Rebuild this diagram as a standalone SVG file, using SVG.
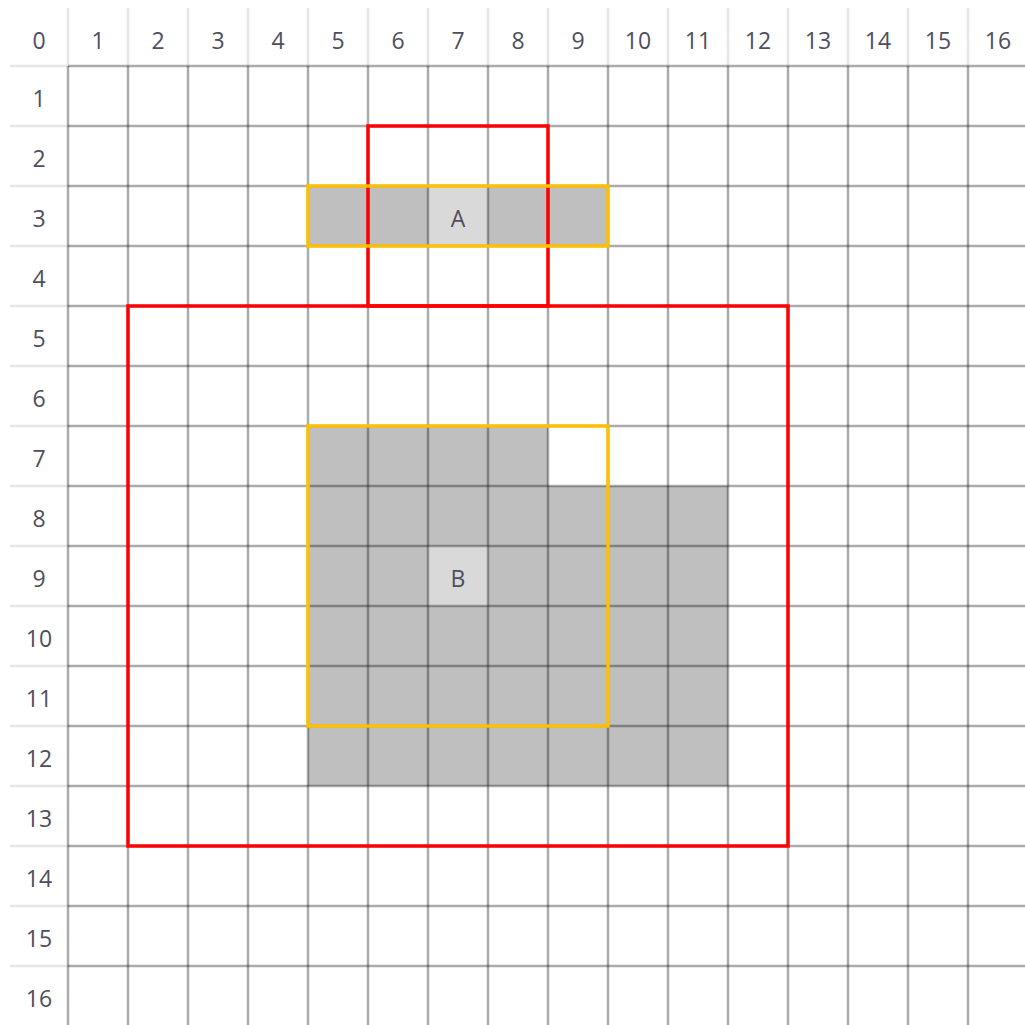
<svg xmlns="http://www.w3.org/2000/svg" width="1025" height="1025" viewBox="0 0 1025 1025">
<style>
.lbl{font-family:"Open Sans","Liberation Sans",sans-serif;font-size:23px;fill:#4e4e5e;text-anchor:middle;dominant-baseline:central}
.hl{stroke:#e6e6e6;stroke-width:2.5}
.gl{stroke:#000;stroke-opacity:0.33;stroke-width:2.5}
.cell{fill:#bfbfbf}
.cellc{fill:#d9d9d9}
.red{fill:none;stroke:#ff0000;stroke-width:3.5}
.org{fill:none;stroke:#ffc000;stroke-width:3.5}
</style>
<rect width="1025" height="1025" fill="#ffffff"/>
<g id="fills">
<rect class="cell" x="308" y="186" width="300" height="60"/>
<rect class="cellc" x="428" y="186" width="60" height="60"/>
<rect class="cell" x="308" y="426" width="240" height="60"/>
<rect class="cell" x="308" y="486" width="420" height="300"/>
<rect class="cellc" x="428" y="546" width="60" height="60"/>
</g>
<g id="header-lines">
<path class="hl" d="M68 8V66M128 8V66M188 8V66M248 8V66M308 8V66M368 8V66M428 8V66M488 8V66M548 8V66M608 8V66M668 8V66M728 8V66M788 8V66M848 8V66M908 8V66M968 8V66"/>
<path class="hl" d="M10 66H68M10 126H68M10 186H68M10 246H68M10 306H68M10 366H68M10 426H68M10 486H68M10 546H68M10 606H68M10 666H68M10 726H68M10 786H68M10 846H68M10 906H68M10 966H68"/>
</g>
<g id="grid">
<path class="gl" d="M68 66V1025M128 66V1025M188 66V1025M248 66V1025M308 66V1025M368 66V1025M428 66V1025M488 66V1025M548 66V1025M608 66V1025M668 66V1025M728 66V1025M788 66V1025M848 66V1025M908 66V1025M968 66V1025"/>
<path class="gl" d="M68 66H1025M68 126H1025M68 186H1025M68 246H1025M68 306H1025M68 366H1025M68 426H1025M68 486H1025M68 546H1025M68 606H1025M68 666H1025M68 726H1025M68 786H1025M68 846H1025M68 906H1025M68 966H1025"/>
</g>
<g id="col-labels">
<text class="lbl" x="39" y="40">0</text>
<text class="lbl" x="98" y="40">1</text>
<text class="lbl" x="158" y="40">2</text>
<text class="lbl" x="218" y="40">3</text>
<text class="lbl" x="278" y="40">4</text>
<text class="lbl" x="338" y="40">5</text>
<text class="lbl" x="398" y="40">6</text>
<text class="lbl" x="458" y="40">7</text>
<text class="lbl" x="518" y="40">8</text>
<text class="lbl" x="578" y="40">9</text>
<text class="lbl" x="638" y="40">10</text>
<text class="lbl" x="698" y="40">11</text>
<text class="lbl" x="758" y="40">12</text>
<text class="lbl" x="818" y="40">13</text>
<text class="lbl" x="878" y="40">14</text>
<text class="lbl" x="938" y="40">15</text>
<text class="lbl" x="998" y="40">16</text>
</g>
<g id="row-labels">
<text class="lbl" x="39" y="98">1</text>
<text class="lbl" x="39" y="158">2</text>
<text class="lbl" x="39" y="218">3</text>
<text class="lbl" x="39" y="278">4</text>
<text class="lbl" x="39" y="338">5</text>
<text class="lbl" x="39" y="398">6</text>
<text class="lbl" x="39" y="458">7</text>
<text class="lbl" x="39" y="518">8</text>
<text class="lbl" x="39" y="578">9</text>
<text class="lbl" x="39" y="638">10</text>
<text class="lbl" x="39" y="698">11</text>
<text class="lbl" x="39" y="758">12</text>
<text class="lbl" x="39" y="818">13</text>
<text class="lbl" x="39" y="878">14</text>
<text class="lbl" x="39" y="938">15</text>
<text class="lbl" x="39" y="998">16</text>
</g>
<g id="red-boxes">
<rect class="red" x="368" y="126" width="180" height="180"/>
<rect class="red" x="128" y="306" width="660" height="540"/>
</g>
<g id="node-A">
<rect class="org" x="308" y="186" width="300" height="60"/>
<text class="lbl" x="458" y="218">A</text>
</g>
<g id="node-B">
<rect class="org" x="308" y="426" width="300" height="300"/>
<text class="lbl" x="458" y="578">B</text>
</g>
</svg>
